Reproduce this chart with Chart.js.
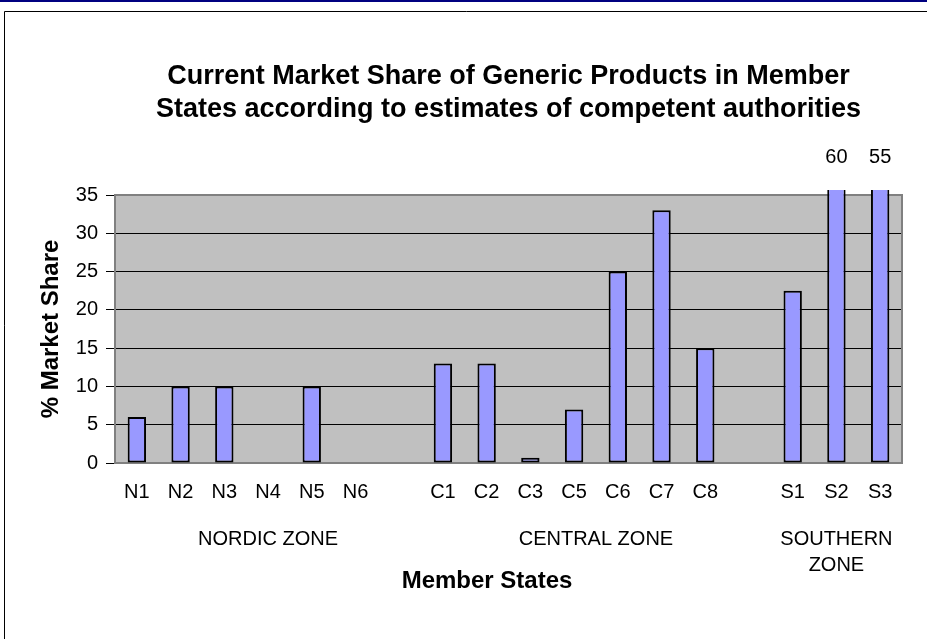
<!DOCTYPE html>
<html>
<head>
<meta charset="utf-8">
<script src="https://cdn.jsdelivr.net/npm/chart.js@4.4.1/dist/chart.umd.min.js"></script>
<style>
html,body{margin:0;padding:0;background:#fff;overflow:hidden}
#wrap{width:927px;height:639px;position:relative}
</style>
</head>
<body>
<div id="wrap"><canvas id="c" width="927" height="639"></canvas></div>
<script>
// ---- data ----
const categories = ['N1','N2','N3','N4','N5','N6','','C1','C2','C3','C5','C6','C7','C8','','S1','S2','S3'];
const marketShare = [6,10,10,null,10,null,null,13,13,0.7,7,25,33,15,null,22.5,60,55];
const zoneNames = [['NORDIC ZONE'],['CENTRAL ZONE'],['SOUTHERN','ZONE']];
const zoneFirstIndex = [0,7,15];
const zoneLastIndex = [6,14,17];
const yAxisMin = 0;
const yAxisMax = 35;
const yAxisStep = 5;
const titleLines = ['Current Market Share of Generic Products in Member','States according to estimates of competent authorities'];
const xAxisTitle = 'Member States';
const yAxisTitle = '% Market Share';

const FONT = '"Liberation Sans", Arial, sans-serif';

const decorPlugin = {
  id: 'decor',
  beforeDraw(chart) {
    const ctx = chart.ctx, a = chart.chartArea;
    ctx.save();
    ctx.fillStyle = '#ffffff';
    ctx.fillRect(0, 0, chart.width, chart.height);
    // top navy rule
    ctx.fillStyle = '#000080';
    ctx.fillRect(0, 0, chart.width, 2);
    // outer frame
    ctx.strokeStyle = '#000000';
    ctx.lineWidth = 1;
    ctx.beginPath();
    ctx.moveTo(4.5, chart.height + 2);
    ctx.lineTo(4.5, 11.5);
    ctx.lineTo(chart.width + 2, 11.5);
    ctx.stroke();
    // plot background
    ctx.fillStyle = '#C0C0C0';
    ctx.fillRect(a.left, a.top, a.right - a.left, a.bottom - a.top);
    ctx.restore();
  },
  beforeDatasetsDraw(chart) {
    const ctx = chart.ctx, a = chart.chartArea;
    ctx.save();
    ctx.strokeStyle = '#808080';
    ctx.lineWidth = 2;
    ctx.strokeRect(a.left, a.top, a.right - a.left, a.bottom - a.top);
    ctx.restore();
  },
  afterDraw(chart) {
    const ctx = chart.ctx, a = chart.chartArea;
    const xs = chart.scales.x, ys = chart.scales.y;
    ctx.save();
    ctx.fillStyle = '#000';
    ctx.textAlign = 'center';
    ctx.textBaseline = 'alphabetic';
    // values beyond the axis maximum
    ctx.font = '20px ' + FONT;
    const meta = chart.getDatasetMeta(0);
    marketShare.forEach((v, i) => {
      if (v != null && v > ys.max) {
        ctx.fillText(String(v), meta.data[i].x, a.top - 32);
      }
    });
    // zone group labels
    zoneNames.forEach((lines, k) => {
      const cx = (xs.getPixelForValue(zoneFirstIndex[k]) + xs.getPixelForValue(zoneLastIndex[k])) / 2;
      lines.forEach((t, j) => ctx.fillText(t, cx, a.bottom + 82 + j * 26));
    });
    // x axis title
    ctx.font = 'bold 24px ' + FONT;
    ctx.fillText(xAxisTitle, 487, a.bottom + 125);
    ctx.restore();
  }
};

new Chart(document.getElementById('c').getContext('2d'), {
  type: 'bar',
  data: {
    labels: categories,
    datasets: [{
      data: marketShare,
      backgroundColor: '#9999FF',
      borderColor: '#000000',
      borderWidth: 2,
      borderSkipped: false,
      barPercentage: 0.42,
      categoryPercentage: 1,
      clip: {left: 5, top: 5, right: 5, bottom: 5}
    }]
  },
  options: {
    responsive: false,
    animation: false,
    devicePixelRatio: 1,
    layout: {padding: {left: 0, right: 25, top: 11, bottom: 0}},
    plugins: {
      legend: {display: false},
      tooltip: {enabled: false},
      title: {
        display: true,
        text: titleLines,
        fullSize: false,
        color: '#000',
        font: {family: FONT, size: 27, weight: 'bold', lineHeight: 33/27},
        padding: {top: 49.5, bottom: 68.5}
      }
    },
    scales: {
      x: {
        grid: {display: false, drawTicks: false},
        border: {display: true, color: '#808080', width: 2},
        ticks: {font: {family: FONT, size: 20}, color: '#000', padding: 17.5, autoSkip: false, maxRotation: 0, minRotation: 0},
        afterFit(s) { s.height = 176; }
      },
      y: {
        min: yAxisMin,
        max: yAxisMax,
        ticks: {stepSize: yAxisStep, font: {family: FONT, size: 20}, color: '#000', padding: 8},
        grid: {color: '#000', lineWidth: 1, drawTicks: true, tickLength: 9, tickColor: '#000'},
        border: {display: true, color: '#808080', width: 2},
        title: {display: true, text: yAxisTitle, color: '#000', font: {family: FONT, size: 24, weight: 'bold'}, padding: {top: 37, bottom: 0}},
        afterFit(s) { s.width = 115; }
      }
    }
  },
  plugins: [decorPlugin]
});
</script>
</body>
</html>
